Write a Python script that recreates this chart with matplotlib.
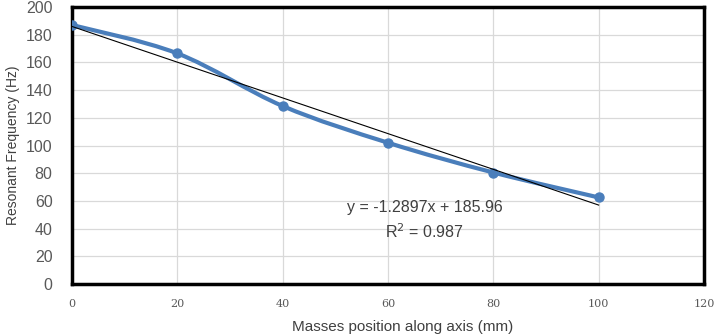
import numpy as np
import matplotlib
matplotlib.use("Agg")
import matplotlib.pyplot as plt
from matplotlib.path import Path
from matplotlib.patches import PathPatch

# --- data ---
position_mm = [0, 20, 40, 60, 80, 100]
freq_hz = [187, 166.5, 128.5, 102, 80.5, 62.5]

# linear trendline reported on the chart
slope = -1.2897
intercept = 185.96
r_squared = 0.987

x_ticks = [0, 20, 40, 60, 80, 100, 120]
y_ticks = [0, 20, 40, 60, 80, 100, 120, 140, 160, 180, 200]

blue = "#4A7EBB"
grey_txt = "#595959"


def smooth_path(xs, ys):
    # Excel-style smoothed line: cubic bezier segments through the points
    p = np.column_stack([xs, ys]).astype(float)
    pad = np.vstack([p[:1], p, p[-1:]])
    verts = [p[0]]
    codes = [Path.MOVETO]
    for i in range(len(p) - 1):
        c1 = pad[i + 1] + (pad[i + 2] - pad[i]) / 6.0
        c2 = pad[i + 2] - (pad[i + 3] - pad[i + 1]) / 6.0
        verts += [c1, c2, pad[i + 2]]
        codes += [Path.CURVE4] * 3
    return Path(verts, codes)


fig = plt.figure(figsize=(7.21, 3.34), dpi=100)
ax = fig.add_axes([0.0999, 0.1497, 0.8765, 0.8293])

ax.set_xlim(0, 120)
ax.set_ylim(0, 200)
ax.set_xticks(x_ticks)
ax.set_yticks(y_ticks)
ax.grid(True, color="#D9D9D9", linewidth=0.9)
ax.set_axisbelow(True)

# trendline
tx = np.array([position_mm[0], position_mm[-1]])
ax.plot(tx, slope * tx + intercept, color="black", linewidth=0.8, zorder=4)

# smoothed data line + markers
ax.add_patch(PathPatch(smooth_path(position_mm, freq_hz), facecolor="none",
                       edgecolor=blue, linewidth=3.0, capstyle="round", zorder=3))
ax.plot(position_mm, freq_hz, linestyle="none", marker="o", markersize=6.5,
        color=blue, zorder=3)

for s in ax.spines.values():
    s.set_color("black")
    s.set_linewidth(2.5)

ax.tick_params(axis="both", length=0)
ax.tick_params(axis="y", pad=14, labelsize=11.5, labelcolor=grey_txt)
ax.tick_params(axis="x", pad=11, labelsize=8, labelcolor=grey_txt)
for lbl in ax.get_yticklabels():
    lbl.set_family("Liberation Sans")
for lbl in ax.get_xticklabels():
    lbl.set_family("DejaVu Serif")

ax.set_ylabel("Resonant Frequency (Hz)", fontsize=10, color="#404040",
              family="Liberation Sans", labelpad=4)
ax.set_xlabel("Masses position along axis (mm)", fontsize=11, color="#404040",
              family="Liberation Sans")
ax.xaxis.set_label_coords(0.523, -0.13)

ax.text(67, 45.7, "y = -1.2897x + 185.96\nR$^2$ = 0.987", ha="center", va="center",
        fontsize=11.5, color="#404040", family="Liberation Sans", linespacing=1.45)

fig.savefig("out.png", dpi=100)
